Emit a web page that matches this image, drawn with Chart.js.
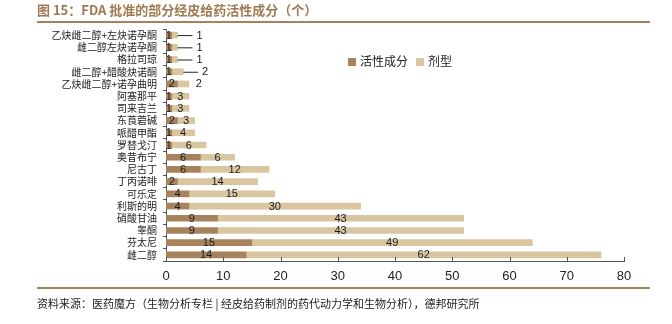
<!DOCTYPE html>
<html>
<head>
<meta charset="utf-8">
<script src="https://cdn.jsdelivr.net/npm/chart.js@4"></script>
<style>
  html, body { margin: 0; padding: 0; background: #fff; }
  #wrap { position: relative; width: 672px; height: 324px; overflow: hidden; }
  #chart { position: absolute; left: 0; top: 0; }
  .title { position: absolute; left: 37px; top: 0px; font: bold 13px "Noto Sans CJK SC", sans-serif; color: #a07a52; white-space: nowrap; }
  .rule { position: absolute; left: 37px; width: 613px; height: 2px; background: #a8805a; }
  .legend { position: absolute; left: 348px; top: 52px; font: 12px "Noto Sans CJK SC", sans-serif; color: #222; white-space: nowrap; }
  .legend span.sw { display: inline-block; width: 8px; height: 8px; margin-right: 4px; vertical-align: 0px; }
  .foot { position: absolute; left: 37px; top: 295px; font: 11px "Noto Sans CJK SC", sans-serif; color: #222; white-space: nowrap; }
</style>
</head>
<body>
<div id="wrap">
  <canvas id="chart" width="672" height="324"></canvas>
  <div class="title">图 15：FDA 批准的部分经皮给药活性成分（个）</div>
  <div class="rule" style="top:21px"></div>
  <div class="legend"><span class="sw" style="background:#a6825d"></span>活性成分&nbsp;&nbsp;&nbsp;<span class="sw" style="background:#d8c6a0"></span>剂型</div>
  <div class="rule" style="top:287px"></div>
  <div class="foot">资料来源：医药魔方（生物分析专栏 | 经皮给药制剂的药代动力学和生物分析），德邦研究所</div>
</div>
<script>
const categories = [
  '乙炔雌二醇+左炔诺孕酮', '雌二醇左炔诺孕酮', '格拉司琼', '雌二醇+醋酸炔诺酮', '乙炔雌二醇+诺孕曲明',
  '阿塞那平', '司来吉兰', '东莨菪碱', '哌醋甲酯', '罗替戈汀', '奥昔布宁', '尼古丁', '丁丙诺啡',
  '可乐定', '利斯的明', '硝酸甘油', '睾酮', '芬太尼', '雌二醇'
]
const activeCounts = [1, 1, 1, 1, 2, 1, 1, 2, 1, 1, 6, 6, 2, 4, 4, 9, 9, 15, 14]
const formCounts = [1, 1, 1, 2, 2, 3, 3, 3, 4, 6, 6, 12, 14, 15, 30, 43, 43, 49, 62]
const xTicks = [0, 10, 20, 30, 40, 50, 60, 70, 80]

const ACTIVE = '#a6825d'
const FORM = '#d8c6a0'

// value labels drawn on the bars, first few rows pushed outside
const barLabels = {
  id: 'barLabels',
  afterDatasetsDraw(chart) {
    const ctx = chart.ctx
    const x = chart.scales.x
    ctx.save()
    ctx.font = '11px "Liberation Sans", Arial, sans-serif'
    ctx.fillStyle = '#1a1a1a'
    ctx.textAlign = 'center'
    ctx.textBaseline = 'middle'
    chart.getDatasetMeta(0).data.forEach((bar, i) => {
      const a = activeCounts[i]
      ctx.fillText(String(a), x.getPixelForValue(a / 2), bar.y + 0.5)
    })
    chart.getDatasetMeta(1).data.forEach((bar, i) => {
      const a = activeCounts[i]
      const f = formCounts[i]
      const end = x.getPixelForValue(a + f)
      if (i < 4) {
        const lx = end + 22
        ctx.strokeStyle = '#222'
        ctx.lineWidth = 1
        ctx.beginPath()
        ctx.moveTo(end, bar.y + 0.5)
        ctx.lineTo(lx - 7, bar.y + 0.5)
        ctx.stroke()
        ctx.fillText(String(f), lx, bar.y + 0.5)
      } else if (i === 4) {
        ctx.fillText(String(f), end + 10, bar.y + 0.5)
      } else {
        ctx.fillText(String(f), x.getPixelForValue(a + f / 2), bar.y + 0.5)
      }
    })
    // inward ticks on the x axis
    const y0 = chart.scales.y.bottom
    ctx.strokeStyle = '#555'
    xTicks.forEach(v => {
      const px = Math.round(x.getPixelForValue(v)) + 0.5
      ctx.beginPath()
      ctx.moveTo(px, y0)
      ctx.lineTo(px, y0 - 4)
      ctx.stroke()
    })
    ctx.restore()
  }
}

new Chart(document.getElementById('chart'), {
  type: 'bar',
  data: {
    labels: categories,
    datasets: [
      { label: '活性成分', data: activeCounts, backgroundColor: ACTIVE, barThickness: 6 },
      { label: '剂型', data: formCounts, backgroundColor: FORM, barThickness: 6 }
    ]
  },
  options: {
    indexAxis: 'y',
    responsive: false,
    animation: false,
    layout: { padding: { top: 29, right: 48, bottom: 0, left: 0 } },
    plugins: { legend: { display: false }, tooltip: { enabled: false } },
    scales: {
      x: {
        stacked: true,
        min: 0,
        max: 80,
        afterBuildTicks: s => { s.ticks = xTicks.map(v => ({ value: v })) },
        afterFit: s => { s.height = 63 },
        border: { color: '#555', width: 1 },
        grid: { display: false, drawTicks: false },
        ticks: { color: '#222', padding: 8, font: { size: 13, family: '"Liberation Sans", Arial, sans-serif' } }
      },
      y: {
        stacked: true,
        afterFit: s => { s.width = 166 },
        border: { color: '#555', width: 1 },
        grid: { drawOnChartArea: false, tickLength: 3, color: '#555', offset: true },
        ticks: { color: '#222', padding: 6, autoSkip: false, font: { size: 10, family: '"Noto Sans CJK SC", sans-serif' } }
      }
    }
  },
  plugins: [barLabels]
})
</script>
</body>
</html>
